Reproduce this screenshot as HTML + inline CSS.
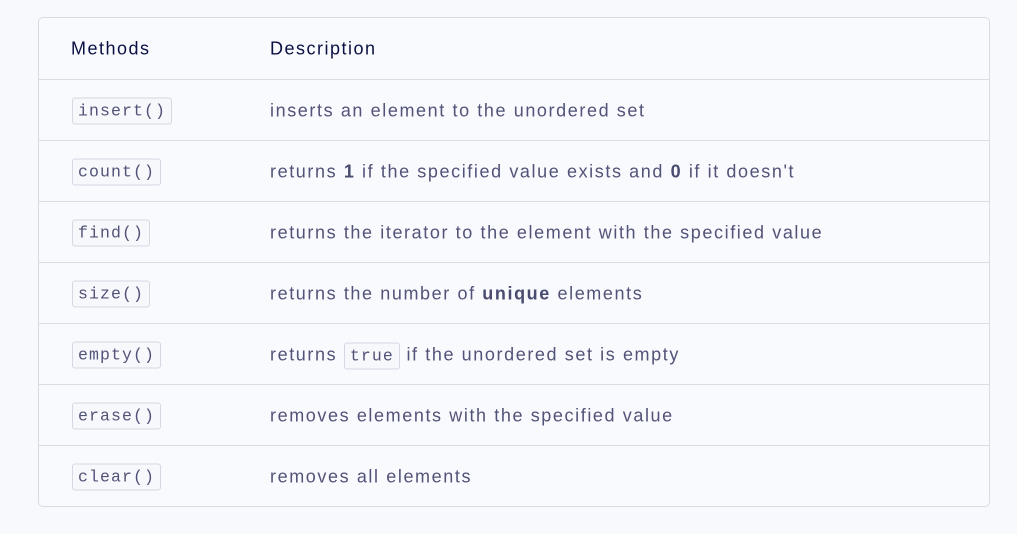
<!DOCTYPE html>
<html><head><style>
body{margin:0;background:#f8f9fc;width:1017px;height:534px;overflow:hidden;font-family:"Liberation Sans",sans-serif;}
.t{position:absolute;left:38px;top:17px;width:950px;height:488px;border:1px solid #d8dbe3;border-radius:5px;background:#f9fafe;}
.r{position:absolute;left:0;width:950px;height:61px;border-top:1px solid #dadde6;}
.m{position:absolute;left:33px;top:50%;transform:translateY(-50%);}
.d{position:absolute;left:231px;top:50%;transform:translateY(-50%);font-size:18px;color:#525378;letter-spacing:1.6px;white-space:nowrap;}
code{font-family:"Liberation Mono",monospace;font-size:16.5px;letter-spacing:1.1px;color:#525378;border:1px solid #d5d8e2;border-radius:3px;padding:3px 5px;background:#f7f8fc;}
b{color:#4a4b70}
.h{font-size:18px;color:#0b1043;letter-spacing:1.5px;position:absolute;top:50%;transform:translateY(-50%);}
</style></head><body>
<div class="t">
<div class="r" style="top:0;height:61px;border-top:none"><span class="h" style="left:32px">Methods</span><span class="h" style="left:231px">Description</span></div>
<div class="r" style="top:61px"><span class="m"><code>insert()</code></span><span class="d">inserts an element to the unordered set</span></div>
<div class="r" style="top:122px"><span class="m"><code>count()</code></span><span class="d">returns <b>1</b> if the specified value exists and <b>0</b> if it doesn't</span></div>
<div class="r" style="top:183px"><span class="m"><code>find()</code></span><span class="d">returns the iterator to the element with the specified value</span></div>
<div class="r" style="top:244px"><span class="m"><code>size()</code></span><span class="d">returns the number of <b>unique</b> elements</span></div>
<div class="r" style="top:305px"><span class="m"><code>empty()</code></span><span class="d">returns <code>true</code> if the unordered set is empty</span></div>
<div class="r" style="top:366px"><span class="m"><code>erase()</code></span><span class="d">removes elements with the specified value</span></div>
<div class="r" style="top:427px"><span class="m"><code>clear()</code></span><span class="d">removes all elements</span></div>
</div>
</body></html>
